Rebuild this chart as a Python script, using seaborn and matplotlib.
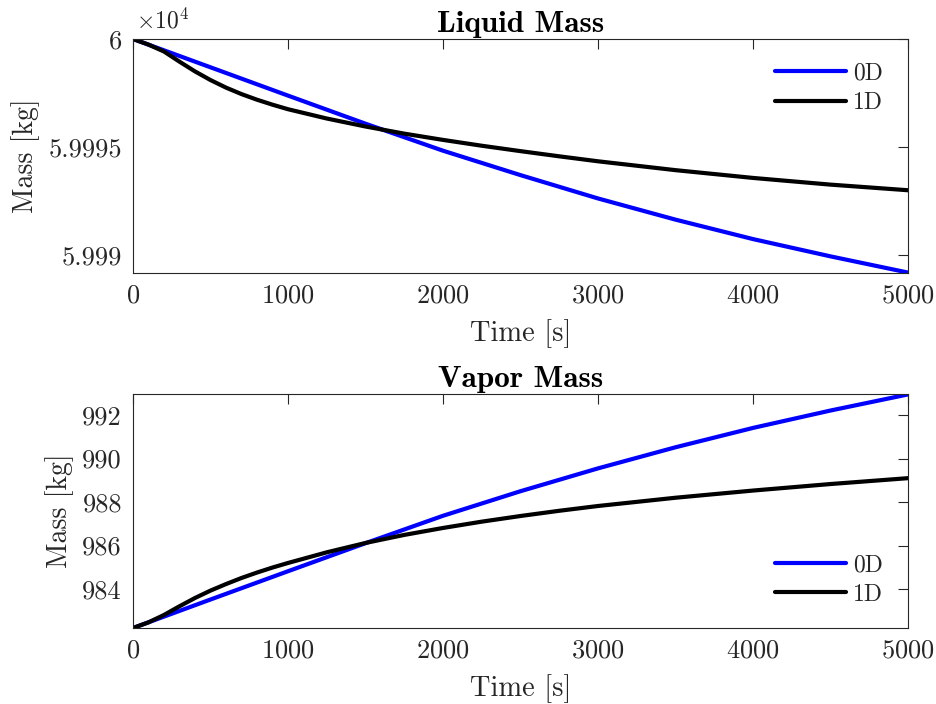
import numpy as np
import pandas as pd
import matplotlib
matplotlib.use("Agg")
import matplotlib.pyplot as plt
from matplotlib.ticker import FuncFormatter, FixedLocator
import seaborn as sns

# ---- data ----
time_0d = [0, 500, 1000, 1500, 2000, 2500, 3000, 3500, 4000, 4500, 5000]
liquid_0d = [60000.00, 59998.69, 59997.38, 59996.08, 59994.83, 59993.70, 59992.62,
             59991.64, 59990.74, 59989.94, 59989.19]
vapor_0d = [982.21, 983.52, 984.82, 986.11, 987.37, 988.50, 989.55, 990.52, 991.41,
            992.21, 992.95]

time_1d = [0, 100, 200, 300, 400, 500, 600, 700, 800, 900, 1000, 1250, 1500, 1750,
           2000, 2250, 2500, 2750, 3000, 3500, 4000, 4500, 5000]
liquid_1d = [60000.00, 59999.74, 59999.42, 59998.95, 59998.50, 59998.10, 59997.75,
             59997.45, 59997.19, 59996.96, 59996.75, 59996.32, 59995.95, 59995.62,
             59995.33, 59995.06, 59994.81, 59994.57, 59994.34, 59993.93, 59993.57,
             59993.26, 59993.00]
vapor_1d = [982.21, 982.47, 982.81, 983.21, 983.59, 983.93, 984.23, 984.51, 984.76,
            984.99, 985.20, 985.69, 986.12, 986.49, 986.81, 987.10, 987.36, 987.60,
            987.82, 988.20, 988.53, 988.83, 989.10]

series_names = ["0D", "1D"]
xticks = [0, 1000, 2000, 3000, 4000, 5000]
liquid_yticks = [59990, 59995, 60000]
vapor_yticks = [984, 986, 988, 990, 992]

sns.set_style("white")
plt.rcParams["font.family"] = ["cmr10", "DejaVu Serif"]
plt.rcParams["mathtext.fontset"] = "cm"
plt.rcParams["axes.formatter.use_mathtext"] = True
plt.rcParams["axes.unicode_minus"] = False

liq = pd.DataFrame({
    "t": time_0d + time_1d,
    "m": liquid_0d + liquid_1d,
    "model": ["0D"] * len(time_0d) + ["1D"] * len(time_1d),
})
vap = pd.DataFrame({
    "t": time_0d + time_1d,
    "m": vapor_0d + vapor_1d,
    "model": ["0D"] * len(time_0d) + ["1D"] * len(time_1d),
})
palette = {"0D": "#0000ff", "1D": "#000000"}

fig = plt.figure(figsize=(9.36, 7.04), dpi=100)
ax1 = fig.add_axes([133 / 936, 1 - 273 / 704, 775 / 936, 234 / 704])
ax2 = fig.add_axes([133 / 936, 1 - 628 / 704, 775 / 936, 234 / 704])

sns.lineplot(data=liq, x="t", y="m", hue="model", hue_order=series_names, palette=palette,
             linewidth=3, ax=ax1, estimator=None, sort=True)
sns.lineplot(data=vap, x="t", y="m", hue="model", hue_order=series_names, palette=palette,
             linewidth=3, ax=ax2, estimator=None, sort=True)

edge = "#262626"
for ax, title in [(ax1, "Liquid Mass"), (ax2, "Vapor Mass")]:
    ax.set_xlim(0, 5000)
    ax.xaxis.set_major_locator(FixedLocator(xticks))
    ax.set_xlabel("Time [s]", fontsize=20.5, color=edge, labelpad=8)
    ax.set_ylabel("Mass [kg]", fontsize=20, color=edge, labelpad=6)
    ax.set_title(title, fontsize=22.5, fontfamily="cmb10", pad=5, color="black")
    ax.tick_params(direction="in", length=7, width=0.8, top=True, right=True,
                   labelsize=19, colors=edge, pad=8)
    for s in ax.spines.values():
        s.set_color(edge)
        s.set_linewidth(0.8)
    ax.grid(False)

ax1.set_ylim(59989.17, 60000.0)
ax1.yaxis.set_major_locator(FixedLocator(liquid_yticks))
ax1.yaxis.set_major_formatter(FuncFormatter(lambda v, p: "%g" % round(v / 1e4, 6)))
fig.text(136 / 936, 1 - 21 / 704, r"$\times10^{4}$", fontsize=17, color=edge, va="center", ha="left")

ax2.set_ylim(982.21, 992.97)
ax2.yaxis.set_major_locator(FixedLocator(vapor_yticks))
ax2.yaxis.set_major_formatter(FuncFormatter(lambda v, p: "%g" % v))

leg_kw = dict(frameon=False, fontsize=17, handlelength=3.0, handletextpad=0.3,
              labelspacing=0.3, borderaxespad=0.0)
ax1.legend(loc="upper right", bbox_to_anchor=(0.98, 0.94), **leg_kw)
ax2.legend(loc="lower right", bbox_to_anchor=(0.98, 0.055), **leg_kw)

fig.savefig("out.png", dpi=100)
